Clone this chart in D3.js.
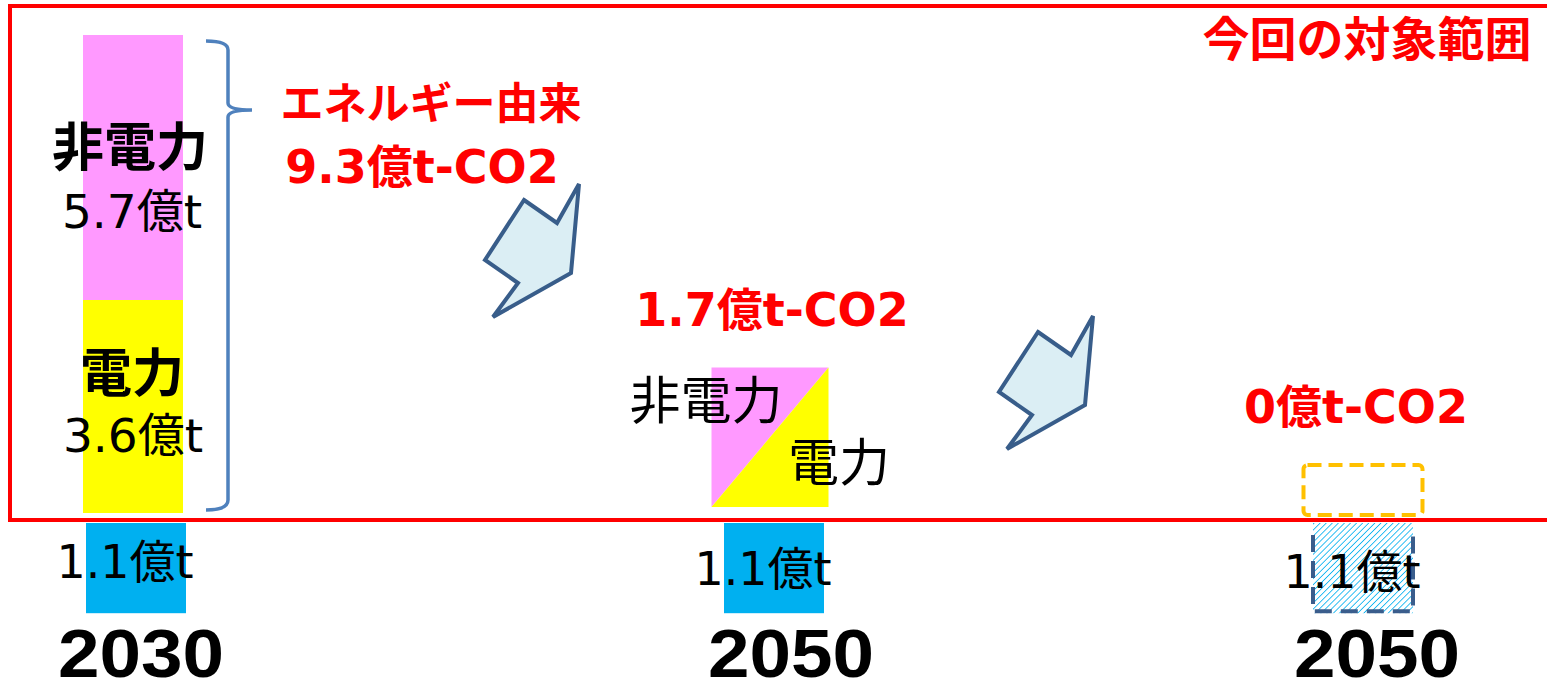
<!DOCTYPE html>
<html><head><meta charset="utf-8">
<script src="https://cdn.jsdelivr.net/npm/d3@7"></script>
<style>
html,body{margin:0;padding:0;background:#fff;}
svg{display:block;}
</style></head>
<body>
<script>
// ---- data ----
const columns = ["c2030", "c2050", "c2050zero"];
const yearLabels = ["2030", "2050", "2050"];
const energyTotals = [9.3, 1.7, 0];
const energyTotalLabels = ["9.3億t-CO2", "1.7億t-CO2", "0億t-CO2"];
const stackParts = ["電力", "非電力"];
const stackValues2030 = [3.6, 5.7];
const nonEnergyValues = [1.1, 1.1, 1.1];
const scopeLabel = "今回の対象範囲";
const energyLabel = "エネルギー由来";

const W = 1547, H = 692;
const svg = d3.select("body").append("svg").attr("width", W).attr("height", H);
const defs = svg.append("defs");
const pat = defs.append("pattern").attr("id", "hatch").attr("patternUnits", "userSpaceOnUse")
  .attr("width", 4.3).attr("height", 4.3).attr("patternTransform", "rotate(45)");
pat.append("rect").attr("width", 4.3).attr("height", 4.3).attr("fill", "#fff");
pat.append("line").attr("x1", 0).attr("y1", 0).attr("x2", 0).attr("y2", 4.3)
  .attr("stroke", "#00B0F0").attr("stroke-width", 1.6);

const JP = "'Noto Sans CJK JP', sans-serif";
const LAT = "'DejaVu Sans', 'Noto Sans CJK JP', sans-serif";

// scales
const xUpper = d3.scaleOrdinal().domain(columns).range([133, 770, 1363]);
const xLower = d3.scaleOrdinal().domain(columns).range([136, 774, 1363]);
const xYear = d3.scaleOrdinal().domain(columns).range([141, 791, 1377]);
// schematic (compressed) scale for the 2030 stacked bar
const cum = d3.cumsum(stackValues2030);
const yStack = d3.scaleLinear().domain([0, cum[0], cum[1]]).range([513, 300, 35]);
// unit-height scale for the smaller bars
const hUnit = d3.scaleLinear().domain([0, 1]).range([0, 82]);

const stackColors = d3.scaleOrdinal().domain(stackParts).range(["#FFFF00", "#FF99FF"]);

// ---- 2030 stacked bar ----
const bw = 100;
stackParts.forEach((p, i) => {
  const y0 = i === 0 ? 0 : cum[i - 1];
  const y1 = cum[i];
  svg.append("rect").attr("x", xUpper("c2030") - bw / 2).attr("width", bw)
    .attr("y", yStack(y1)).attr("height", yStack(y0) - yStack(y1))
    .attr("fill", stackColors(p));
});

// ---- 2050 split bar ----
const mw = 117, mBottom = 507;
const mx0 = xUpper("c2050") - mw / 2, mx1 = mx0 + mw;
const mTop = mBottom - hUnit(energyTotals[1]);
svg.append("path").attr("d", `M${mx0},${mBottom}L${mx0},${mTop}L${mx1},${mTop}Z`).attr("fill", stackColors("非電力"));
svg.append("path").attr("d", `M${mx0},${mBottom}L${mx1},${mTop}L${mx1},${mBottom}Z`).attr("fill", stackColors("電力"));

// ---- 2050 zero placeholder ----
svg.append("rect").attr("x", xUpper("c2050zero") - 59.5).attr("y", 465).attr("width", 119).attr("height", 50)
  .attr("rx", 4).attr("fill", "none").attr("stroke", "#FFC000").attr("stroke-width", 4)
  .attr("stroke-dasharray", "14,7");

// ---- non-energy bars (lower) ----
const lowTop = 523, lw = 100;
columns.forEach((c, i) => {
  const h = hUnit(nonEnergyValues[i]);
  const x = xLower(c) - lw / 2;
  if (i < 2) {
    svg.append("rect").attr("x", x).attr("y", lowTop).attr("width", lw).attr("height", h).attr("fill", "#00B0F0");
  } else {
    svg.append("rect").attr("x", x).attr("y", lowTop).attr("width", lw).attr("height", h).attr("fill", "url(#hatch)");
    svg.append("path").attr("d", `M${x},${lowTop + 12}L${x},${lowTop + h - 2}L${x + lw},${lowTop + h - 2}L${x + lw},${lowTop + 12}`)
      .attr("fill", "none").attr("stroke", "#3A5D8C").attr("stroke-width", 4).attr("stroke-dasharray", "17,9");
  }
});

// ---- red scope frame ----
svg.append("path").attr("d", `M${W + 10},6L10,6L10,520L${W + 10},520`)
  .attr("fill", "none").attr("stroke", "#FF0000").attr("stroke-width", 4);

// ---- bracket ----
svg.append("path")
  .attr("d", "M206,41 Q228,41 228,50 L228,103 Q228,110 252,110 Q228,110 228,117 L228,500 Q228,510 206,510")
  .attr("fill", "none").attr("stroke", "#4F81BD").attr("stroke-width", 3.5);

// ---- arrows ----
const arrowShape = [[0, 0], [33, 23], [55, -16], [47, 73], [-31, 117], [-6, 83], [-39, 60]];
[[524, 200], [1038, 332]].forEach(([ax, ay]) => {
  svg.append("path").attr("d", d3.line()(arrowShape.map(([dx, dy]) => [ax + dx, ay + dy])) + "Z")
    .attr("fill", "#DBEEF4").attr("stroke", "#385D8A").attr("stroke-width", 4).attr("stroke-linejoin", "miter");
});

// ---- texts ----
function txt(x, y, s, size, opts = {}) {
  return svg.append("text").attr("x", x).attr("y", y).attr("text-anchor", "middle")
    .attr("font-family", opts.family || LAT).attr("font-size", size)
    .attr("font-weight", opts.bold ? "bold" : "normal").attr("fill", opts.fill || "#000").text(s);
}
const fmt = v => d3.format(".1f")(v) + "億t";

txt(130, 166, stackParts[1], 52, {bold: true, family: JP});
txt(132, 228, fmt(stackValues2030[1]), 47);
txt(132, 392, stackParts[0], 52, {bold: true, family: JP});
txt(133, 452, fmt(stackValues2030[0]), 47);

txt(706, 419, stackParts[1], 51, {family: JP});
txt(839, 481, stackParts[0], 51, {family: JP});

[125, 763, 1352].forEach((x, i) => {
  txt(x, [578, 585, 588][i], fmt(nonEnergyValues[i]), 46);
});

columns.forEach((c, i) => {
  txt(xYear(c), 677, yearLabels[i], 68, {bold: true, family: "'Liberation Sans', Arial, sans-serif"})
    .attr("textLength", 166).attr("lengthAdjust", "spacingAndGlyphs");
});

txt(431, 119, energyLabel, 43, {bold: true, family: JP, fill: "#FF0000"});
txt(422, 183, energyTotalLabels[0], 46, {bold: true, fill: "#FF0000"});
txt(772, 326, energyTotalLabels[1], 46, {bold: true, fill: "#FF0000"});
txt(1356, 423, energyTotalLabels[2], 46, {bold: true, fill: "#FF0000"});
txt(1367, 56, scopeLabel, 47, {bold: true, family: JP, fill: "#FF0000"});
</script>
</body></html>
